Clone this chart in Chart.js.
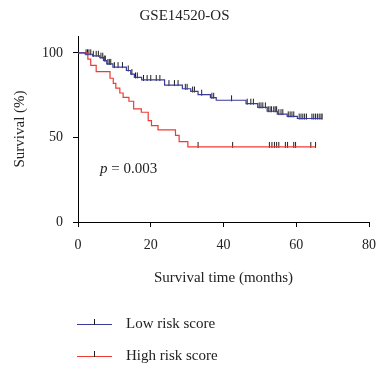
<!DOCTYPE html>
<html lang="en">
<head>
  <meta charset="UTF-8" />
  <title>GSE14520-OS</title>
  <script src="https://cdn.jsdelivr.net/npm/chart.js"></script>
  <style>
    html, body { margin: 0; padding: 0; background: #ffffff; }
    #wrap { width: 380px; height: 370px; }
  </style>
</head>
<body>
<div id="wrap"><canvas id="kmChart" width="380" height="370"></canvas></div>

<script>
  // Kaplan-Meier steps: time (months) and survival (%) right after each step
  const lowTime = [0, 2, 4, 6, 7, 7.9, 9.6, 13.3, 14.5, 15.5, 17.5, 23.8, 28.7, 31, 33, 36.4, 38, 46.2, 49.4, 52, 54.8, 57.5, 60.3, 67.1];
  const lowSurv = [100, 99.2, 98.3, 97.2, 95.5, 93.5, 91.6, 89.6, 87.5, 85.5, 84, 81, 78.8, 77.2, 75.3, 73.5, 72, 70, 67.8, 65.5, 63.8, 62.5, 61.2, 61.2];
  const highTime = [0, 2.7, 3.5, 5, 8.8, 9.7, 10.4, 11.5, 12.4, 14, 15.3, 17.4, 19.3, 20.2, 22, 26.8, 27.8, 30.2, 65.3];
  const highSurv = [100, 96.3, 92.6, 88.9, 85, 82, 79.2, 76.3, 73.7, 71.4, 66.9, 64.9, 60, 57, 54.5, 51.2, 47.5, 44.4, 44.4];

  // censored patients (months)
  const lowCensor = [2.2, 2.6, 3.0, 3.5, 4.2, 5.0, 5.6, 6.3, 6.8, 7.2, 7.5, 8.2, 8.6, 9.0, 10, 11, 12.2, 13.8, 14.8,
    15.8, 16.3, 18, 19, 20, 21.5, 22.5, 25, 26.5, 27.5, 29.5, 30, 31.5, 32, 34, 36.8, 37.3, 42.2, 46.5, 47.5, 48.2,
    49.8, 50.3, 50.8, 51.5, 52.3, 52.8, 53.2, 53.8, 54.2, 54.6, 55.2, 55.8, 56.3, 57.8, 58.3, 58.8, 59.3, 60.8,
    61.3, 61.8, 62.3, 62.8, 64.3, 64.8, 65.3, 65.8, 66.3, 66.8, 67.1];
  const highCensor = [33, 42.5, 52.6, 53.3, 54, 54.6, 55.2, 57, 57.6, 59.3, 59.8, 64, 65.3];

  const seriesNames = ['Low risk score', 'High risk score'];
  const seriesColors = ['#3b3b9b', '#ee3b36'];
  const xTicks = [0, 20, 40, 60, 80];
  const yTicks = [0, 50, 100];
  const pText = '= 0.003';

  const FONT = "'Liberation Serif', 'DejaVu Serif', serif";
  const TEXT = '#222222';

  function steps(times, surv) {
    return times.map((t, i) => ({ x: t, y: surv[i] }));
  }

  // survival value of a step curve at time t
  function survAt(times, surv, t) {
    let v = surv[0];
    for (let i = 0; i < times.length; i++) {
      if (times[i] <= t) v = surv[i];
    }
    return v;
  }

  function censorPoints(times, surv, cens) {
    return cens.map(t => ({ x: t, y: survAt(times, surv, t) }));
  }

  // small vertical tick used as censor mark (sits mostly above the curve)
  const tick = document.createElement('canvas');
  tick.width = 3;
  tick.height = 12;
  const tctx = tick.getContext('2d');
  tctx.fillStyle = '#1e1e1e';
  tctx.fillRect(1, 1, 1, 6);

  const extras = {
    id: 'extras',
    afterDraw(chart) {
      const ctx = chart.ctx;
      const area = chart.chartArea;
      ctx.save();

      // p value
      ctx.fillStyle = TEXT;
      ctx.textBaseline = 'middle';
      ctx.textAlign = 'left';
      const px = area.left + 22;
      const py = area.bottom - 53;
      ctx.font = 'italic 15px ' + FONT;
      ctx.fillText('p', px, py);
      const pw = ctx.measureText('p ').width;
      ctx.font = '15px ' + FONT;
      ctx.fillText(pText, px + pw, py);

      // legend
      const rows = [324, 356];
      rows.forEach((y, i) => {
        const x0 = area.left - 1;
        ctx.strokeStyle = seriesColors[i];
        ctx.lineWidth = 1.2;
        ctx.beginPath();
        ctx.moveTo(x0, y + 0.5);
        ctx.lineTo(x0 + 35, y + 0.5);
        ctx.stroke();
        ctx.drawImage(tick, x0 + 16, y - 6);
        ctx.fillStyle = TEXT;
        ctx.font = '15px ' + FONT;
        ctx.fillText(seriesNames[i], x0 + 49, y);
      });
      ctx.restore();
    }
  };

  const ctx = document.getElementById('kmChart').getContext('2d');
  new Chart(ctx, {
    type: 'scatter',
    data: {
      datasets: [
        {
          label: seriesNames[0],
          data: steps(lowTime, lowSurv),
          showLine: true,
          stepped: 'before',
          borderColor: seriesColors[0],
          borderWidth: 1.2,
          pointRadius: 0
        },
        {
          label: seriesNames[1],
          data: steps(highTime, highSurv),
          showLine: true,
          stepped: 'before',
          borderColor: seriesColors[1],
          borderWidth: 1.2,
          pointRadius: 0
        },
        {
          label: 'low censored',
          data: censorPoints(lowTime, lowSurv, lowCensor),
          pointStyle: tick,
          pointRadius: 3
        },
        {
          label: 'high censored',
          data: censorPoints(highTime, highSurv, highCensor),
          pointStyle: tick,
          pointRadius: 3
        }
      ]
    },
    options: {
      responsive: false,
      animation: false,
      events: [],
      layout: { padding: { left: 0, right: 11, top: 0, bottom: 83 } },
      plugins: {
        legend: { display: false },
        tooltip: { enabled: false },
        title: {
          display: true,
          text: 'GSE14520-OS',
          color: TEXT,
          font: { family: FONT, size: 15, weight: 'normal' },
          padding: { top: 7, bottom: 11 }
        }
      },
      scales: {
        x: {
          type: 'linear',
          min: 0,
          max: 80,
          afterBuildTicks: s => { s.ticks = xTicks.map(v => ({ value: v })); },
          afterFit: s => { s.height = 65; s.paddingRight = 0; },
          ticks: { color: TEXT, font: { family: FONT, size: 14 }, padding: 10, maxRotation: 0 },
          grid: { display: true, drawOnChartArea: false, drawTicks: true, tickLength: 5, color: '#000' },
          border: { display: true, color: '#000', width: 1 },
          title: {
            display: true,
            text: 'Survival time (months)',
            color: TEXT,
            font: { family: FONT, size: 15 },
            padding: { top: 0, bottom: 0 }
          }
        },
        y: {
          type: 'linear',
          min: 0,
          max: 110,
          afterBuildTicks: s => { s.ticks = yTicks.map(v => ({ value: v })); },
          afterFit: s => { s.width = 78; },
          ticks: { color: TEXT, font: { family: FONT, size: 14 }, padding: 10 },
          grid: { display: true, drawOnChartArea: false, drawTicks: true, tickLength: 5, color: '#000' },
          border: { display: true, color: '#000', width: 1 },
          title: {
            display: true,
            text: 'Survival (%)',
            color: TEXT,
            font: { family: FONT, size: 15 },
            padding: { top: 11, bottom: 0 }
          }
        }
      }
    },
    plugins: [extras]
  });
</script>
</body>
</html>
